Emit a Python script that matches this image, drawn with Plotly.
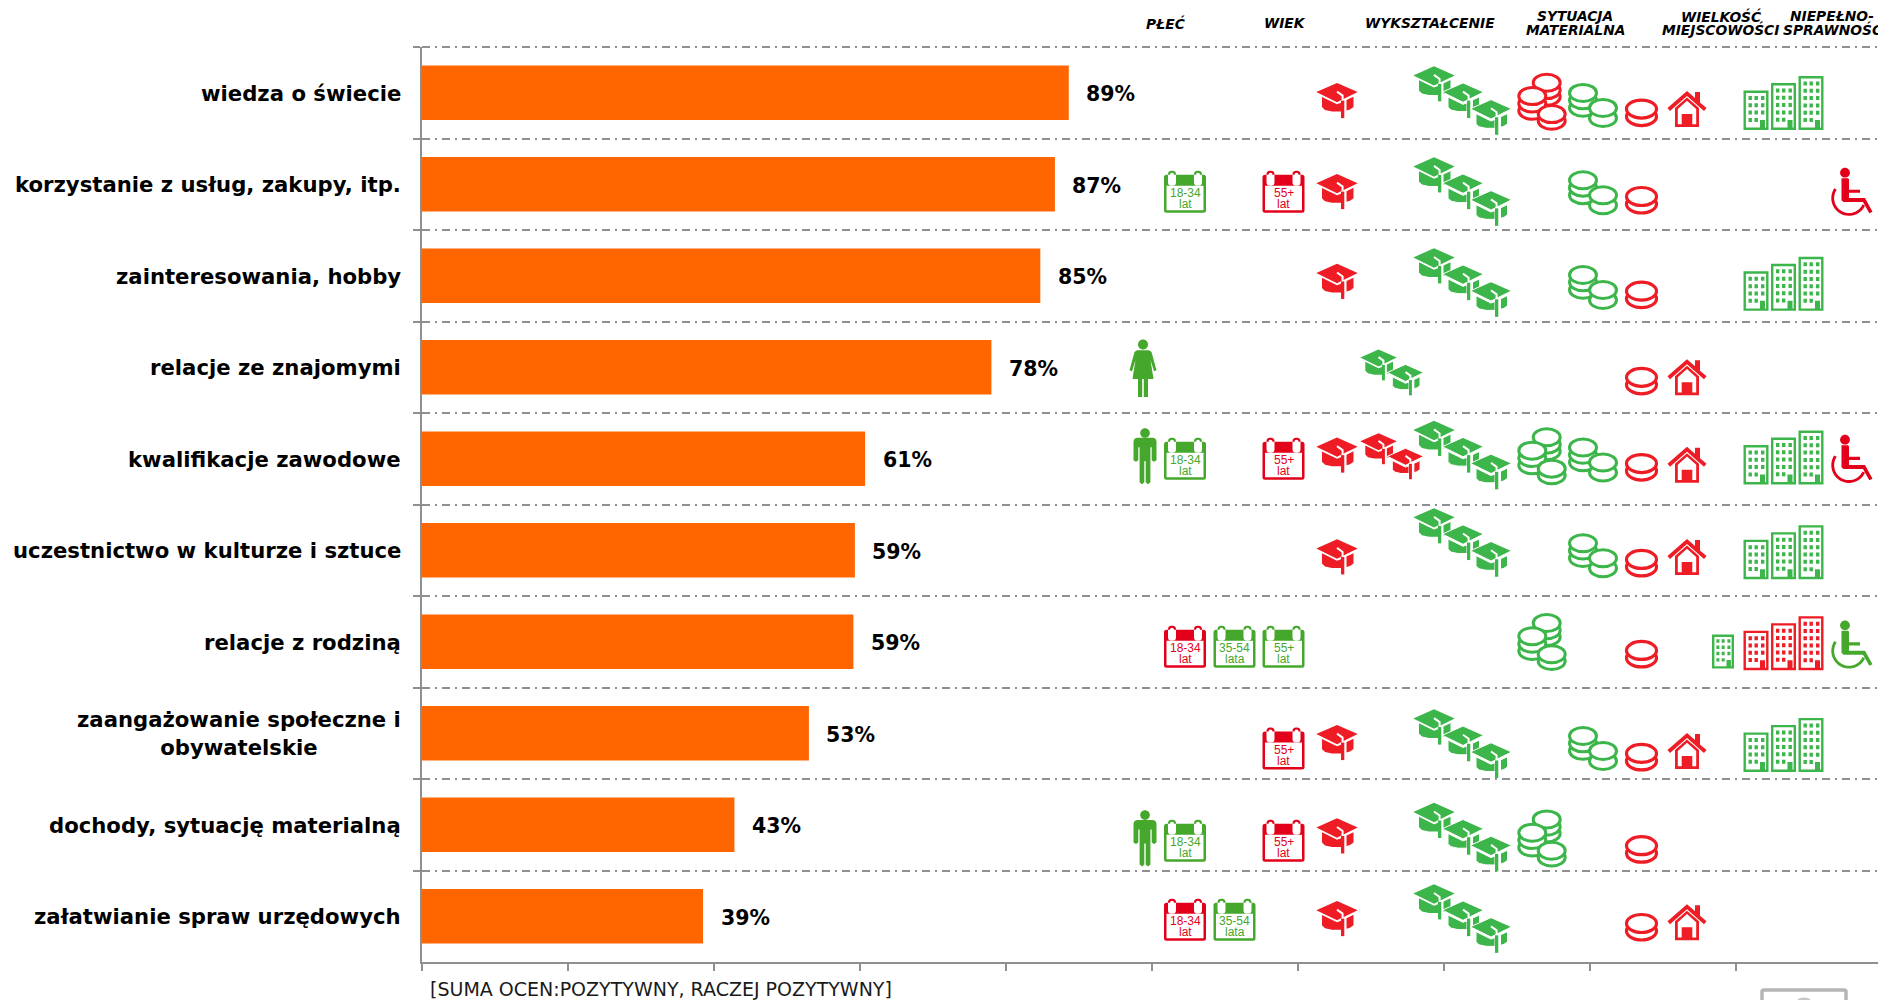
import math
import plotly.graph_objects as go

# ---------- chart data ----------
CATEGORIES = [
    "wiedza o świecie", "korzystanie z usług, zakupy, itp.", "zainteresowania, hobby",
    "relacje ze znajomymi", "kwalifikacje zawodowe", "uczestnictwo w kulturze i sztuce",
    "relacje z rodziną", "zaangażowanie społeczne i<br>obywatelskie",
    "dochody, sytuację materialną", "załatwianie spraw urzędowych",
]
VALUES = [88.6, 86.7, 84.7, 78.0, 60.7, 59.3, 59.1, 53.0, 42.8, 38.5]
VALUE_LABELS = ["89%", "87%", "85%", "78%", "61%", "59%", "59%", "53%", "43%", "39%"]
HEADERS = [("PŁEĆ", 1165, 23), ("WIEK", 1285, 23), ("WYKSZTAŁCENIE", 1430, 23),
           ("SYTUACJA", 1575, 16), ("MATERIALNA", 1575, 30),
           ("WIELKOŚĆ", 1721, 16), ("MIEJSCOWOŚCI", 1720, 30),
           ("NIEPEŁNO-", 1832, 16), ("SPRAWNOŚĆ", 1832, 30)]
FOOTNOTE = "[SUMA OCEN:POZYTYWNY, RACZEJ POZYTYWNY]"

# group -> horizontal centre in page px
SLOTS = {
    "person": 1145, "k18": 1185, "k35": 1234.5, "k55": 1283.5, "cap1": 1337, "cap2": 1392,
    "cap3": 1463, "coins3": 1542, "coins2": 1593, "coin1": 1641.5, "house": 1687,
    "bld1": 1723, "bld3": 1783.5, "wheel": 1852, "woman": 1143,
}
# row -> {group: (tone, vertical centre)}
MARKS = [
    {"cap1": ("r", 84), "cap3": ("g", 84), "coins3": ("r", 85), "coins2": ("g", 87), "coin1": ("r", 94),
     "house": ("r", 91), "bld3": ("g", 86)},
    {"k18": ("g", 160), "k55": ("r", 160), "cap1": ("r", 160), "cap3": ("g", 160), "coins2": ("g", 160),
     "coin1": ("r", 167), "wheel": ("r", 160)},
    {"cap1": ("r", 235), "cap3": ("g", 236), "coins2": ("g", 239), "coin1": ("r", 246), "bld3": ("g", 237)},
    {"woman": ("g", 308), "cap2": ("g", 311), "coin1": ("r", 318), "house": ("r", 315)},
    {"person": ("g", 381), "k18": ("g", 383), "k55": ("r", 383), "cap1": ("r", 380), "cap2": ("r", 381),
     "cap3": ("g", 380), "coins3": ("g", 381), "coins2": ("g", 383), "coin1": ("r", 390), "house": ("r", 388),
     "bld3": ("g", 382), "wheel": ("r", 383)},
    {"cap1": ("r", 465), "cap3": ("g", 453), "coins2": ("g", 463), "coin1": ("r", 470), "house": ("r", 465),
     "bld3": ("g", 461)},
    {"k18": ("r", 540), "k35": ("g", 540), "k55": ("g", 540), "coins3": ("g", 536), "coin1": ("r", 546),
     "bld1": ("g", 544), "bld3": ("r", 537), "wheel": ("g", 538)},
    {"k55": ("r", 625), "cap1": ("r", 620), "cap3": ("g", 621), "coins2": ("g", 624), "coin1": ("r", 632),
     "house": ("r", 627), "bld3": ("g", 622)},
    {"person": ("g", 700), "k18": ("g", 702), "k55": ("r", 702), "cap1": ("r", 698), "cap3": ("g", 699),
     "coins3": ("g", 700), "coin1": ("r", 709)},
    {"k18": ("r", 768), "k35": ("g", 768), "cap1": ("r", 767), "cap3": ("g", 767), "coin1": ("r", 774),
     "house": ("r", 770)},
]
CAL_TEXT = {"k18": ("18-34", "lat"), "k35": ("35-54", "lata"), "k55": ("55+", "lat")}

# ---------- page geometry and palette ----------
W, H = 1878, 1000
L, T, B = 422, 47, 962
XMAX = 199.45
SHRINK = 1878 / 1568
BAR = "#ff6600"
AXIS = "#8f8f8f"
GRID_DASH = "8px,5px,2px,5px"
BRIGHT = {"g": "#3cb54a", "r": "#ee1c25"}
DEEP = {"g": "#45a72c", "r": "#e2001a"}
WHITE = "#ffffff"


def fx(px):
    return (px - L) / (W - L)


def fy(py):
    return 1 - (py - T) / (B - T)


def pt(x, y):
    return f"{x:.2f},{-y:.2f}"


def poly(points):
    return "M" + " L".join(pt(*p) for p in points) + " Z"


def rect(x0, y0, x1, y1):
    return poly([(x0, y0), (x1, y0), (x1, y1), (x0, y1)])


def rrect(x0, y0, x1, y1, r):
    return (f"M{pt(x0 + r, y0)} L{pt(x1 - r, y0)} Q{pt(x1, y0)} {pt(x1, y0 + r)} L{pt(x1, y1 - r)} "
            f"Q{pt(x1, y1)} {pt(x1 - r, y1)} L{pt(x0 + r, y1)} Q{pt(x0, y1)} {pt(x0, y1 - r)} "
            f"L{pt(x0, y0 + r)} Q{pt(x0, y0)} {pt(x0 + r, y0)} Z")


def ell(cx, cy, rx, ry):
    k = 0.5523
    return (f"M{pt(cx + rx, cy)} C{pt(cx + rx, cy + k * ry)} {pt(cx + k * rx, cy + ry)} {pt(cx, cy + ry)} "
            f"C{pt(cx - k * rx, cy + ry)} {pt(cx - rx, cy + k * ry)} {pt(cx - rx, cy)} "
            f"C{pt(cx - rx, cy - k * ry)} {pt(cx - k * rx, cy - ry)} {pt(cx, cy - ry)} "
            f"C{pt(cx + k * rx, cy - ry)} {pt(cx + rx, cy - k * ry)} {pt(cx + rx, cy)} Z")


shapes = []
notes = []


def add(cx, cy, path, fill=None, line=None, width=0, evenodd=False):
    s = dict(type="path", xref="paper", yref="paper", xsizemode="pixel", ysizemode="pixel",
             xanchor=fx(cx), yanchor=fy(cy), path=path,
             fillcolor=fill if fill else "rgba(0,0,0,0)",
             line=dict(color=line if line else "rgba(0,0,0,0)", width=width))
    if evenodd:
        s["fillrule"] = "evenodd"
    shapes.append(s)


def text(px, py, s, size, color, family="DejaVu Sans", anchor="center", align="center", **font):
    notes.append(dict(xref="paper", yref="paper", x=fx(px), y=fy(py), text=s, showarrow=False,
                      xanchor=anchor, yanchor="middle", align=align, borderpad=0,
                      font=dict(size=size, color=color, family=family, **font)))


def draw_cap(cx, cy, c, s=1.0, halo=False):
    def P(x, y):
        return (x * s, y * s)
    board = poly([P(-20.7, -8.5), P(0, -17.7), P(20.7, -8.5), P(0, 1.7)])
    cup = (poly([P(-15, -3.7), P(0, 3.7), P(4, 2.2), P(4, 11), P(-5, 11), P(-12, 9.5), P(-15, 6.5)]) + " " +
           poly([P(9.5, -0.5), P(16.5, -3.8), P(16.5, 6.5), P(13, 9), P(9.5, 10)]))
    if halo:
        add(cx, cy, cup, fill=c, line=WHITE, width=1)
    else:
        add(cx, cy, cup, fill=c)
    add(cx, cy, board, fill=c, line=WHITE if halo else None, width=1 if halo else 0)
    add(cx, cy, "M" + pt(*P(0, -9)) + " L" + pt(*P(5.6, -5)) + " L" + pt(*P(5.6, 0)), line=WHITE, width=2)
    add(cx, cy, rect(*P(4, 0), *P(7.3, 17.5)), fill=c)


def draw_pile(cx, cy, coins, c, rx=13.5, ry=8.5, w=3):
    for x, y in coins:
        add(cx, cy, ell(x, y, rx, ry), fill=WHITE, line=c, width=w)


def draw_calendar(cx, cy, c, labels):
    body = rrect(-21, -17, 21, 21, 2.5)
    ring = rrect(9, -21, 17, -6, 3.5) + " " + rrect(-17, -21, -9, -6, 3.5)
    add(cx, cy, body + " " + ring, fill=c)
    add(cx, cy, rect(-18.5, -6, 18.5, 18.5), fill=WHITE)
    add(cx, cy, rrect(11, -19, 15, -8, 2) + " " + rrect(-15, -19, -11, -8, 2), fill=WHITE)
    text(cx, cy + 1.5, labels[0], 12, c, family="Liberation Sans")
    text(cx, cy + 12, labels[1], 12, c, family="Liberation Sans")


def draw_house(cx, cy, c):
    add(cx, cy, poly([(0, -18), (8, -11), (8, -17), (13, -17), (13, -6.5), (19.5, -1), (17, 2), (0, -13),
                      (-17, 2), (-19.5, -1)]), fill=c)
    walls = (poly([(-12, -1), (0, -11.5), (12, -1), (12, 18), (-12, 18)]) + " " +
             poly([(-9.2, 0), (0, -8.2), (9.2, 0), (9.2, 15.2), (-9.2, 15.2)]) + " " +
             rect(-5.3, 5, 5.3, 15.2))
    add(cx, cy, walls, fill=c, evenodd=True)


def draw_building(cx, cy, c, x0, y0, w, h, rows):
    x1, y1 = x0 + w, y0 + h
    sx = w / 25
    sy = h / 39.5 if rows == 4 else 1
    parts = [rect(x0, y0, x1, y1), rect(x0 + 2.4, y0 + 2.4, x1 - 2.4, y1 - 2.4)]
    for r in range(rows):
        wy = y0 + (5.5 + r * 7.3) * sy
        for col, off in enumerate((5, 11, 17.5)):
            if r == rows - 1 and col == 2:
                continue
            parts.append(rect(x0 + off * sx, wy, x0 + (off + 3.4) * sx, wy + 4 * sy))
    parts.append(rect(x0 + 16.5 * sx, y1 - 10 * sy, x0 + 21.5 * sx, y1 - 2.4))
    add(cx, cy, " ".join(parts), fill=c, evenodd=True)


def draw_wheel(cx, cy, c):
    add(cx, cy, ell(-7, -19, 4.9, 4.9), fill=c)
    body = poly([(-10.5, -13.5), (-4, -13.5), (-3, -12.5), (-3, -2), (8, -2), (8, 1.2), (-3, 1.2), (-3, 6.3),
                 (13, 6.3), (20.5, 20), (17.3, 21.5), (11, 10.3), (-8.5, 10.3), (-10.5, 8.5)])
    add(cx, cy, body, fill=c)
    pts = []
    for i in range(0, 29):
        a = math.radians(214 - i * 6.75)
        pts.append((-3 + 16.3 * math.cos(a), 6.5 + 16.3 * math.sin(a)))
    add(cx, cy, "M" + " L".join(pt(*p) for p in pts), line=c, width=2.8)


def draw_person(cx, cy, c):
    add(cx, cy, ell(0, -23.3, 4.8, 4.8), fill=c)
    add(cx, cy, poly([(-8, -18.5), (8, -18.5), (10.5, -17.5), (11.5, -15), (11.5, 4), (9, 5.5), (6.7, 4),
                      (6.7, -9), (5.4, -9), (5.4, 26), (3, 28), (0.7, 26), (0.7, 5), (-0.7, 5), (-0.7, 26),
                      (-3, 28), (-5.4, 26), (-5.4, -9), (-6.7, -9), (-6.7, 4), (-9, 5.5), (-11.5, 4),
                      (-11.5, -15), (-10.5, -17.5)]), fill=c)


def draw_woman(cx, cy, c):
    add(cx, cy, ell(0, -24.3, 5, 5), fill=c)
    add(cx, cy, poly([(-6, -18.7), (6, -18.7), (8.5, -17), (13.5, 1.3), (11, 2.3), (7.5, -9), (10.5, 10), (5, 10),
                      (5, 28), (0.8, 28), (0.8, 10), (-0.8, 10), (-0.8, 28), (-5, 28), (-5, 10), (-10.5, 10),
                      (-7.5, -9), (-11, 2.3), (-13.5, 1.3), (-8.5, -17)]), fill=c)


def draw_icon(slot, cx, cy, tone):
    b, d = BRIGHT[tone], DEEP[tone]
    if slot == "person":
        draw_person(cx, cy, d)
    elif slot == "woman":
        draw_woman(cx, cy, d)
    elif slot in CAL_TEXT:
        draw_calendar(cx, cy, d, CAL_TEXT[slot])
    elif slot == "cap1":
        draw_cap(cx, cy, b)
    elif slot == "cap2":
        draw_cap(cx - 13.5, cy - 7.5, b, 0.88)
        draw_cap(cx + 13.5, cy + 7.5, b, 0.88, halo=True)
    elif slot == "cap3":
        draw_cap(cx - 29, cy - 16.7, b)
        draw_cap(cx, cy, b, halo=True)
        draw_cap(cx + 28, cy + 16.7, b, halo=True)
    elif slot == "coins3":
        draw_pile(cx, cy, [(4.7, -5), (4.7, -11.7), (4.7, -19), (-9.7, 9), (-9.7, 1.7), (-9.7, -5.7),
                           (9.7, 19), (9.7, 12.3)], b)
    elif slot == "coins2":
        draw_pile(cx, cy, [(-10, 3.5), (-10, -4), (-10, -11.3), (10, 13.7), (10, 3.7)], b)
    elif slot == "coin1":
        draw_pile(cx, cy, [(0, 4), (0, -3.5)], b, rx=15, ry=9, w=3.2)
    elif slot == "house":
        draw_house(cx, cy, b)
    elif slot == "bld1":
        draw_building(cx, cy, b, -11, -17, 22, 34, 4)
    elif slot == "bld3":
        draw_building(cx, cy, b, -40, -12.5, 25, 39.5, 4)
        draw_building(cx, cy, b, -12.5, -20, 25, 47, 5)
        draw_building(cx, cy, b, 15, -27, 25, 54, 6)
    elif slot == "wheel":
        draw_wheel(cx, cy, d)


for row in MARKS:
    for slot, (tone, yc) in row.items():
        draw_icon(slot, SLOTS[slot], yc * SHRINK, tone)

# category labels (second line centred under the first) and value labels
row_h = (B - T) / len(CATEGORIES)
for i, (cat, lab, val) in enumerate(zip(CATEGORIES, VALUE_LABELS, VALUES)):
    yc = T + row_h * (i + 0.5)
    text(402, yc + 0.5, cat, 21.2, "#000000", anchor="right", weight="bold")
    text(L + val * (W - L) / XMAX + 16.5, yc + 1.5, lab, 20.5, "#000000", anchor="left", weight="bold")

for s, px, py in HEADERS:
    text(px, py, s, 13.8, "#000000", weight="bold", style="italic")

text(429, 989, FOOTNOTE, 19, "#1a1a1a", anchor="left")

# top rule of the grid (plotly leaves out the gridline on the plot's edge)
shapes.append(dict(type="line", xref="paper", yref="paper", x0=0, x1=1, y0=1, y1=1,
                   line=dict(color=AXIS, width=2, dash=GRID_DASH)))

# grey badge cut by the lower edge
add(1804, 995, rrect(-42, -5, 42, 14, 2), fill=WHITE, line="#b5b5b5", width=3.5)
add(1804, 995, ell(0, 6, 7, 3.5), fill="#c8c8c8")

fig = go.Figure(go.Bar(y=CATEGORIES, x=VALUES, orientation="h", marker=dict(color=BAR, line=dict(width=0)),
                       hoverinfo="skip"))
fig.update_layout(
    width=W, height=H, margin=dict(l=L, r=0, t=T, b=H - B, pad=0),
    paper_bgcolor="white", plot_bgcolor="white", showlegend=False, bargap=0.407,
    shapes=shapes, annotations=notes,
    xaxis=dict(range=[0, XMAX], tickvals=list(range(0, 181, 20)), showticklabels=False, ticks="outside",
               ticklen=7, tickwidth=2, tickcolor=AXIS, showline=True, linecolor=AXIS, linewidth=2,
               showgrid=False, zeroline=False),
    yaxis=dict(type="category", categoryorder="array", categoryarray=CATEGORIES, range=[9.5, -0.5],
               tickson="boundaries", ticks="outside", ticklen=7, tickwidth=2, tickcolor=AXIS,
               showticklabels=False, showline=True, linecolor=AXIS, linewidth=2,
               showgrid=True, gridcolor=AXIS, gridwidth=2, griddash=GRID_DASH, zeroline=False),
)
fig.write_html("out.html", config=dict(displayModeBar=False),
               post_script="document.body.style.margin='0';document.body.style.overflow='hidden';")
